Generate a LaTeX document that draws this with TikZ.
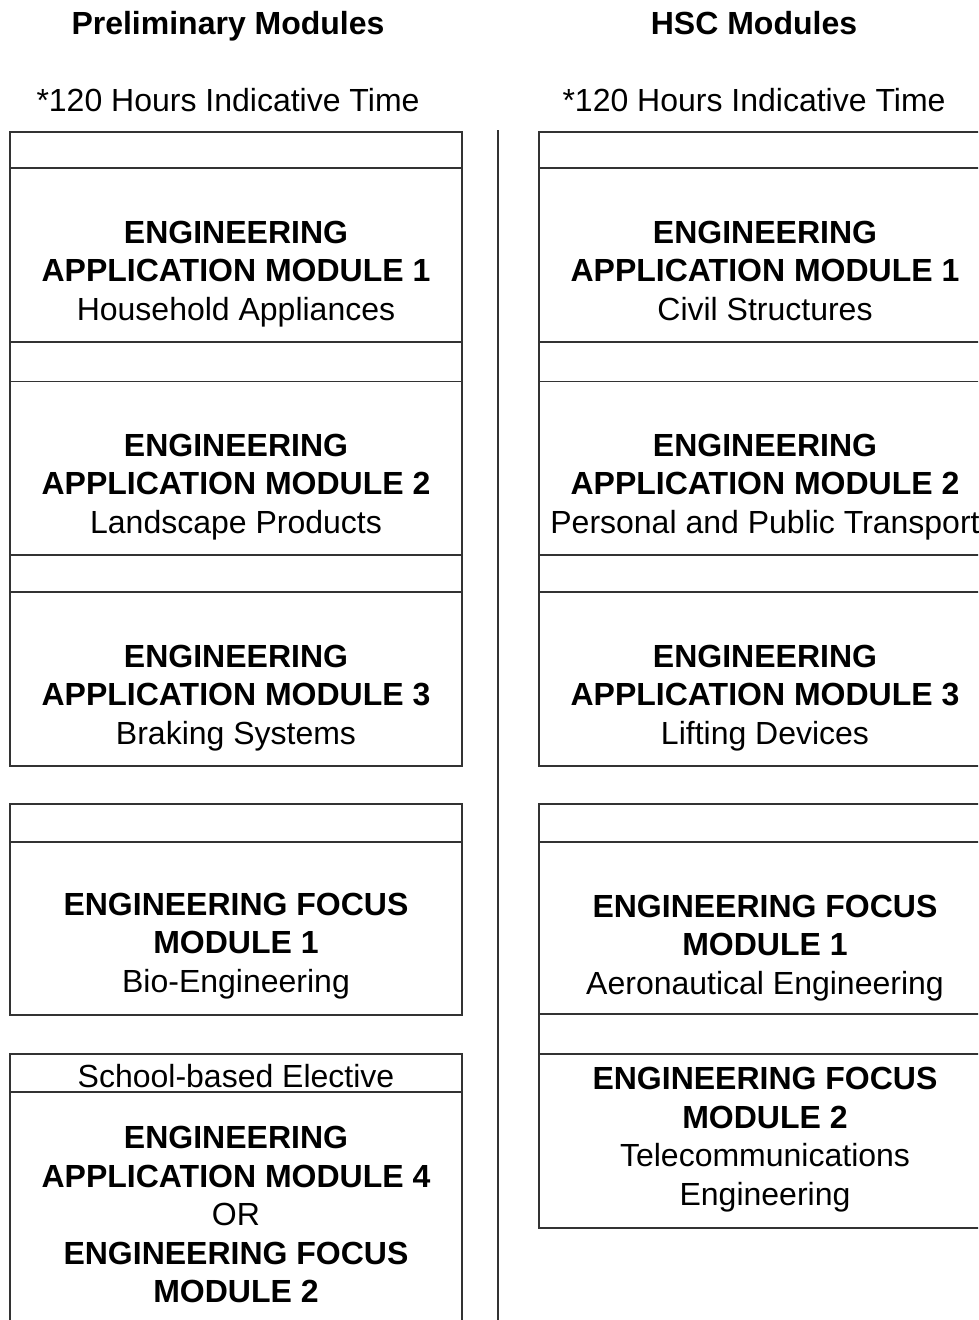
\documentclass[tikz,border=0pt]{standalone}
\usepackage{fontspec}
\setmainfont{Liberation Sans}
\begin{document}
\begin{tikzpicture}[x=1pt,y=-1pt,
  frame/.style={draw=black!80,line width=1.2pt},
  lbl/.style={inner sep=0pt,align=center,font=\fontsize{32}{38.5}\selectfont},
  hdr/.style={inner sep=0pt,align=center,font=\fontsize{32}{38.5}\selectfont\bfseries}]
\useasboundingbox (0,0) rectangle (978,1320);
\clip (0,0) rectangle (978,1320);
% headers
\node[hdr] (h1) at (228,27) {\strut Preliminary Modules};
\node[hdr] (h2) at (754,27) {\strut HSC Modules};
\node[lbl] (t1) at (228,104) {\strut *120 Hours Indicative Time};
\node[lbl] (t2) at (754,104) {\strut *120 Hours Indicative Time};
% divider
\draw[frame] (498,130) -- (498,1325);
% left group 1
\draw[frame] (10,132) rectangle (462,766);
\foreach \yy in {168,342,381.5,555,592} \draw[frame] (10,\yy) -- (462,\yy);
% left group 2
\draw[frame] (10,804) rectangle (462,1015);
\draw[frame] (10,842) -- (462,842);
% left group 3
\draw[frame] (10,1054) rectangle (462,1340);
\draw[frame] (10,1092) -- (462,1092);
% right group 1
\draw[frame] (539,132) rectangle (991,766);
\foreach \yy in {168,342,381.5,555,592} \draw[frame] (539,\yy) -- (991,\yy);
% right group 2
\draw[frame] (539,804) rectangle (991,1228);
\foreach \yy in {842,1014,1054} \draw[frame] (539,\yy) -- (991,\yy);
% left texts
\node[lbl] (l1) at (236,274) {\strut\textbf{ENGINEERING}\\\textbf{APPLICATION MODULE 1}\\Household Appliances\strut};
\node[lbl] (l2) at (236,487) {\strut\textbf{ENGINEERING}\\\textbf{APPLICATION MODULE 2}\\Landscape Products\strut};
\node[lbl] (l3) at (236,698) {\strut\textbf{ENGINEERING}\\\textbf{APPLICATION MODULE 3}\\Braking Systems\strut};
\node[lbl] (l4) at (236,946) {\strut\textbf{ENGINEERING FOCUS}\\\textbf{MODULE 1}\\Bio-Engineering\strut};
\node[lbl] (l5h) at (236,1080) {\strut School-based Elective};
\node[lbl] (l5) at (236,1218) {\strut\textbf{ENGINEERING}\\\textbf{APPLICATION MODULE 4}\\OR\\\textbf{ENGINEERING FOCUS}\\\textbf{MODULE 2}\strut};
% right texts
\node[lbl] (r1) at (765,274) {\strut\textbf{ENGINEERING}\\\textbf{APPLICATION MODULE 1}\\Civil Structures\strut};
\node[lbl] (r2) at (765,487) {\strut\textbf{ENGINEERING}\\\textbf{APPLICATION MODULE 2}\\Personal and Public Transport\strut};
\node[lbl] (r3) at (765,698) {\strut\textbf{ENGINEERING}\\\textbf{APPLICATION MODULE 3}\\Lifting Devices\strut};
\node[lbl] (r4) at (765,948) {\strut\textbf{ENGINEERING FOCUS}\\\textbf{MODULE 1}\\Aeronautical Engineering\strut};
\node[lbl] (r5) at (765,1140) {\strut\textbf{ENGINEERING FOCUS}\\\textbf{MODULE 2}\\Telecommunications\\Engineering\strut};
\end{tikzpicture}
\end{document}
